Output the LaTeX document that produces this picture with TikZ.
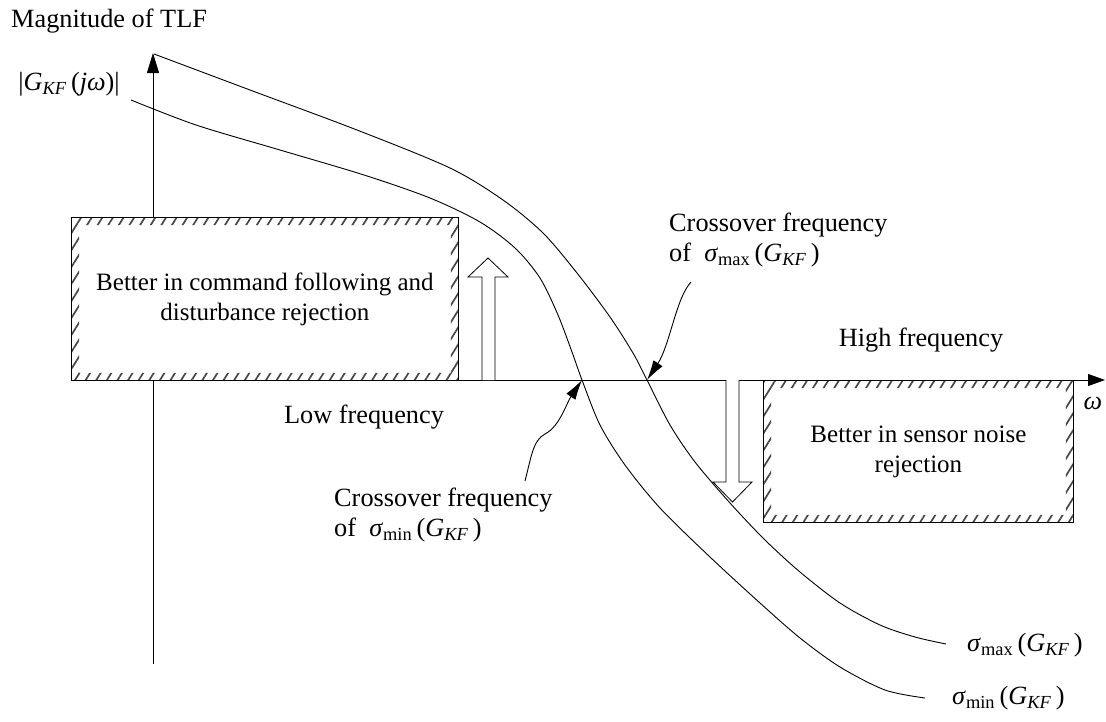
\documentclass[tikz,border=0pt]{standalone}
\usepackage{fontspec}
\setmainfont{Liberation Serif}
\usetikzlibrary{arrows.meta,patterns.meta,calc}
\newcommand{\sgx}[1]{\textit{σ}\textsubscript{#1}\,(\textit{G}\textsubscript{\textit{KF}}\,)}
\begin{document}
\begin{tikzpicture}[x=1pt,y=-1pt,
  lbl/.style={font=\fontsize{26.3}{30}\selectfont, inner sep=0pt, align=center},
  curve/.style={line width=0.9pt},
  axis/.style={line width=0.9pt, -{Triangle[length=20pt,width=12pt]}},
  hatchbox/.style={draw, line width=0.9pt, fill=white, inner sep=0pt, anchor=north west,
    font=\fontsize{25}{30}\selectfont, align=center},
  hatchband/.style={pattern={Lines[angle=58,distance=9pt,line width=1.7pt]}, pattern color=black!72, even odd rule},
  hollow/.style={draw, line width=0.8pt, fill=white},
  pointer/.style={line width=0.9pt, -{Latex[length=20pt,width=11pt]}}]
\path[use as bounding box] (0,0) rectangle (1106,721);

% axes
\coordinate (o) at (153,380);
\coordinate (ytop) at (153,53);
\coordinate (ybot) at (153,664);
\coordinate (xend) at (1105,380);
\draw[axis] (ybot) -- (ytop);
\draw[axis, -{Triangle[length=17pt,width=12pt]}] (o) -- (xend);

% curves
\draw[curve] plot[smooth,tension=0.5] coordinates {(154,54) (250,90) (357,130) (450,168) (503,200) (543,233) (577,273) (610,317) (633,353) (647,380) (670,425) (695,462) (730,503) (765,540) (800,572) (840,603) (880,625) (915,637) (946,644)};
\draw[curve] plot[smooth,tension=0.5] coordinates {(131,100) (196,125) (280,150) (364,175) (430,198) (480,222) (515,248) (540,278) (558,315) (572,352) (582,380) (600,425) (625,465) (660,508) (710,557) (760,603) (800,638) (840,667) (885,690) (925,698)};

% boxes
\node[hatchbox, minimum width=387pt, minimum height=163pt] (lbox) at (71,217) {Better in command following and\\disturbance rejection};
\fill[hatchband] (lbox.north west) rectangle (lbox.south east) ($(lbox.north west)+(8,8)$) rectangle ($(lbox.south east)+(-8,-8)$);
\draw[line width=0.9pt] (lbox.north west) rectangle (lbox.south east);

\node[hatchbox, minimum width=310pt, minimum height=142pt] (rbox) at (763,380) {Better in sensor noise\\rejection};
\fill[hatchband] (rbox.north west) rectangle (rbox.south east) ($(rbox.north west)+(8,8)$) rectangle ($(rbox.south east)+(-8,-8)$);
\draw[line width=0.9pt] (rbox.north west) rectangle (rbox.south east);

% hollow arrows
\draw[hollow] (482,380) -- (482,277) -- (468,277) -- (488,258) -- (508,277) -- (495,277) -- (495,380);
\draw[hollow] (726,380) -- (726,482) -- (713,482) -- (732.5,502) -- (752,482) -- (739,482) -- (739,380);

% labels
\node[lbl, anchor=base west] (mag) at (11,27) {Magnitude of TLF};
\node[lbl] (gkf) at (69,84) {|\textit{G}\textsubscript{\textit{KF}}\,(\textit{jω})|};
\node[lbl] (low) at (364,417) {Low frequency};
\node[lbl] (high) at (921,340) {High frequency};
\node[lbl] (w) at (1093,403) {\textit{ω}};
\node[lbl, anchor=west] (smax) at (967,645) {\sgx{max}};
\node[lbl, anchor=west] (smin) at (952,698) {\sgx{min}};

% crossover annotations
\node[lbl, anchor=west, align=left] (cmax) at (669,240) {Crossover frequency\\of\ \ \sgx{max}};
\node[lbl, anchor=west, align=left] (cmin) at (334,515) {Crossover frequency\\of\ \ \sgx{min}};
\coordinate (pmax) at (647,380);
\coordinate (pmin) at (582,380);
\coordinate (smaxstart) at (691,282);
\coordinate (sminstart) at (525,481);
\draw[pointer] (smaxstart) .. controls (676,298) and (670,345) .. (pmax);
\draw[pointer] (sminstart) .. controls (531,458) and (533,440) .. (545,434) .. controls (560,426) and (566,404) .. (pmin);
\end{tikzpicture}
\end{document}
